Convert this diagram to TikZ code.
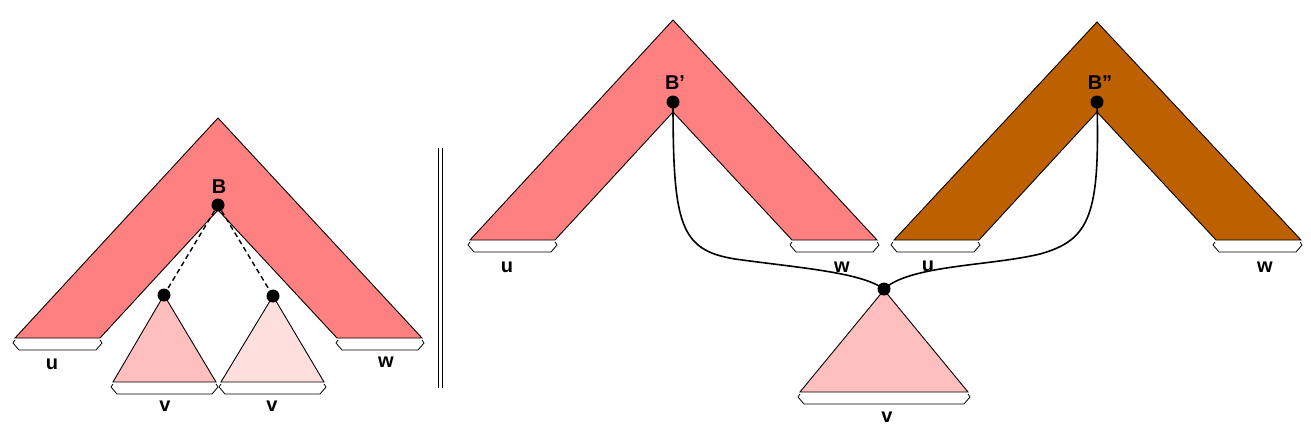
\documentclass[tikz,border=0pt]{standalone}
\usepackage{fontspec}
\setmainfont{Liberation Sans}
\begin{document}
\begin{tikzpicture}[x=1pt,y=-1pt,
  outl/.style={draw=black,line width=0.9pt,line join=miter},
  brk/.style={draw=black,fill=white,line width=0.8pt},
  dot/.style={circle,fill=black,inner sep=0pt,minimum size=13pt},
  lbl/.style={font=\fontsize{20}{22}\selectfont\bfseries,inner sep=0pt},
  conn/.style={draw=black,line width=1.6pt},
  dconn/.style={draw=black,line width=1.4pt,dash pattern=on 5pt off 3.5pt}]
\useasboundingbox (0,0) rectangle (1311,437);
\definecolor{salmon}{HTML}{FF8080}
\definecolor{brown}{HTML}{BD6000}
\definecolor{pinkA}{HTML}{FFBFBF}
\definecolor{pinkB}{HTML}{FFDEDE}
\newcommand\mychev[4]{% apex x, apex y, bottom y, colour
  \path[outl,fill=#4] (#1-203,#3) -- (#1,#2) -- (#1+204,#3) -- (#1+119,#3)
     -- (#1,#3-128) -- (#1-118,#3) -- cycle;}
\newcommand\mybrk[3]{% x1, x2, y
  \path[brk] (#1,#3) -- (#1-2,#3+3) -- (#1+4,#3+10) -- (#2-4,#3+10) -- (#2+2,#3+3) -- (#2,#3);}
% ---------- left part ----------
\mychev{218}{118}{338}{salmon}
\mybrk{15}{100}{340}
\mybrk{338}{422}{340}
\path[outl,fill=pinkA] (164,295) -- (216,382) -- (113,382) -- cycle;
\path[outl,fill=pinkB] (273,296) -- (324,382) -- (221,382) -- cycle;
\mybrk{113}{216}{384}
\mybrk{221}{324}{384}
\node[dot] (B) at (218,205) {};
\node[lbl] (Bl) at (219,187) {B};
\node[dot] (v1) at (164,295) {};
\node[dot] (v2) at (273,296) {};
\draw[dconn] (B) -- (v1);
\draw[dconn] (B) -- (v2);
\node[lbl] (u1) at (52,364) {u};
\node[lbl] (w1) at (386,362) {w};
\node[lbl] (vl1) at (165,406) {v};
\node[lbl] (vl2) at (272,406) {v};
% separator
\draw[line width=1pt] (438,148) -- (438,388);
\draw[line width=1pt] (442,148) -- (442,388);
% ---------- right part ----------
\mychev{673}{20}{240}{salmon}
\mybrk{470}{555}{242}
\mybrk{792}{877}{242}
\mychev{1097}{22}{240}{brown}
\mybrk{893}{978}{242}
\mybrk{1215}{1300}{242}
\path[outl,fill=pinkA] (884,290) -- (968,392) -- (800,392) -- cycle;
\mybrk{800}{968}{394}
\node[dot] (Bp) at (673,102) {};
\node[dot] (Bpp) at (1097,102) {};
\node[dot] (V) at (884,289) {};
\node[lbl] (Bpl) at (675,83) {B'};
\node[lbl] (Bppl) at (1100,83) {B''};
\draw[conn] (Bp.center) .. controls (673,225) and (680,250) .. (735,259)
   .. controls (800,268) and (860,272) .. (V.center);
\draw[conn] (Bpp.center) .. controls (1100,215) and (1090,240) .. (1040,254)
   .. controls (990,266) and (910,265) .. (V.center);
\node[lbl] (u2) at (507,267) {u};
\node[lbl] (w2) at (842,267) {w};
\node[lbl] (u3) at (928,266) {u};
\node[lbl] (w3) at (1265,267) {w};
\node[lbl] (vl3) at (887,417) {v};
\end{tikzpicture}
\end{document}
